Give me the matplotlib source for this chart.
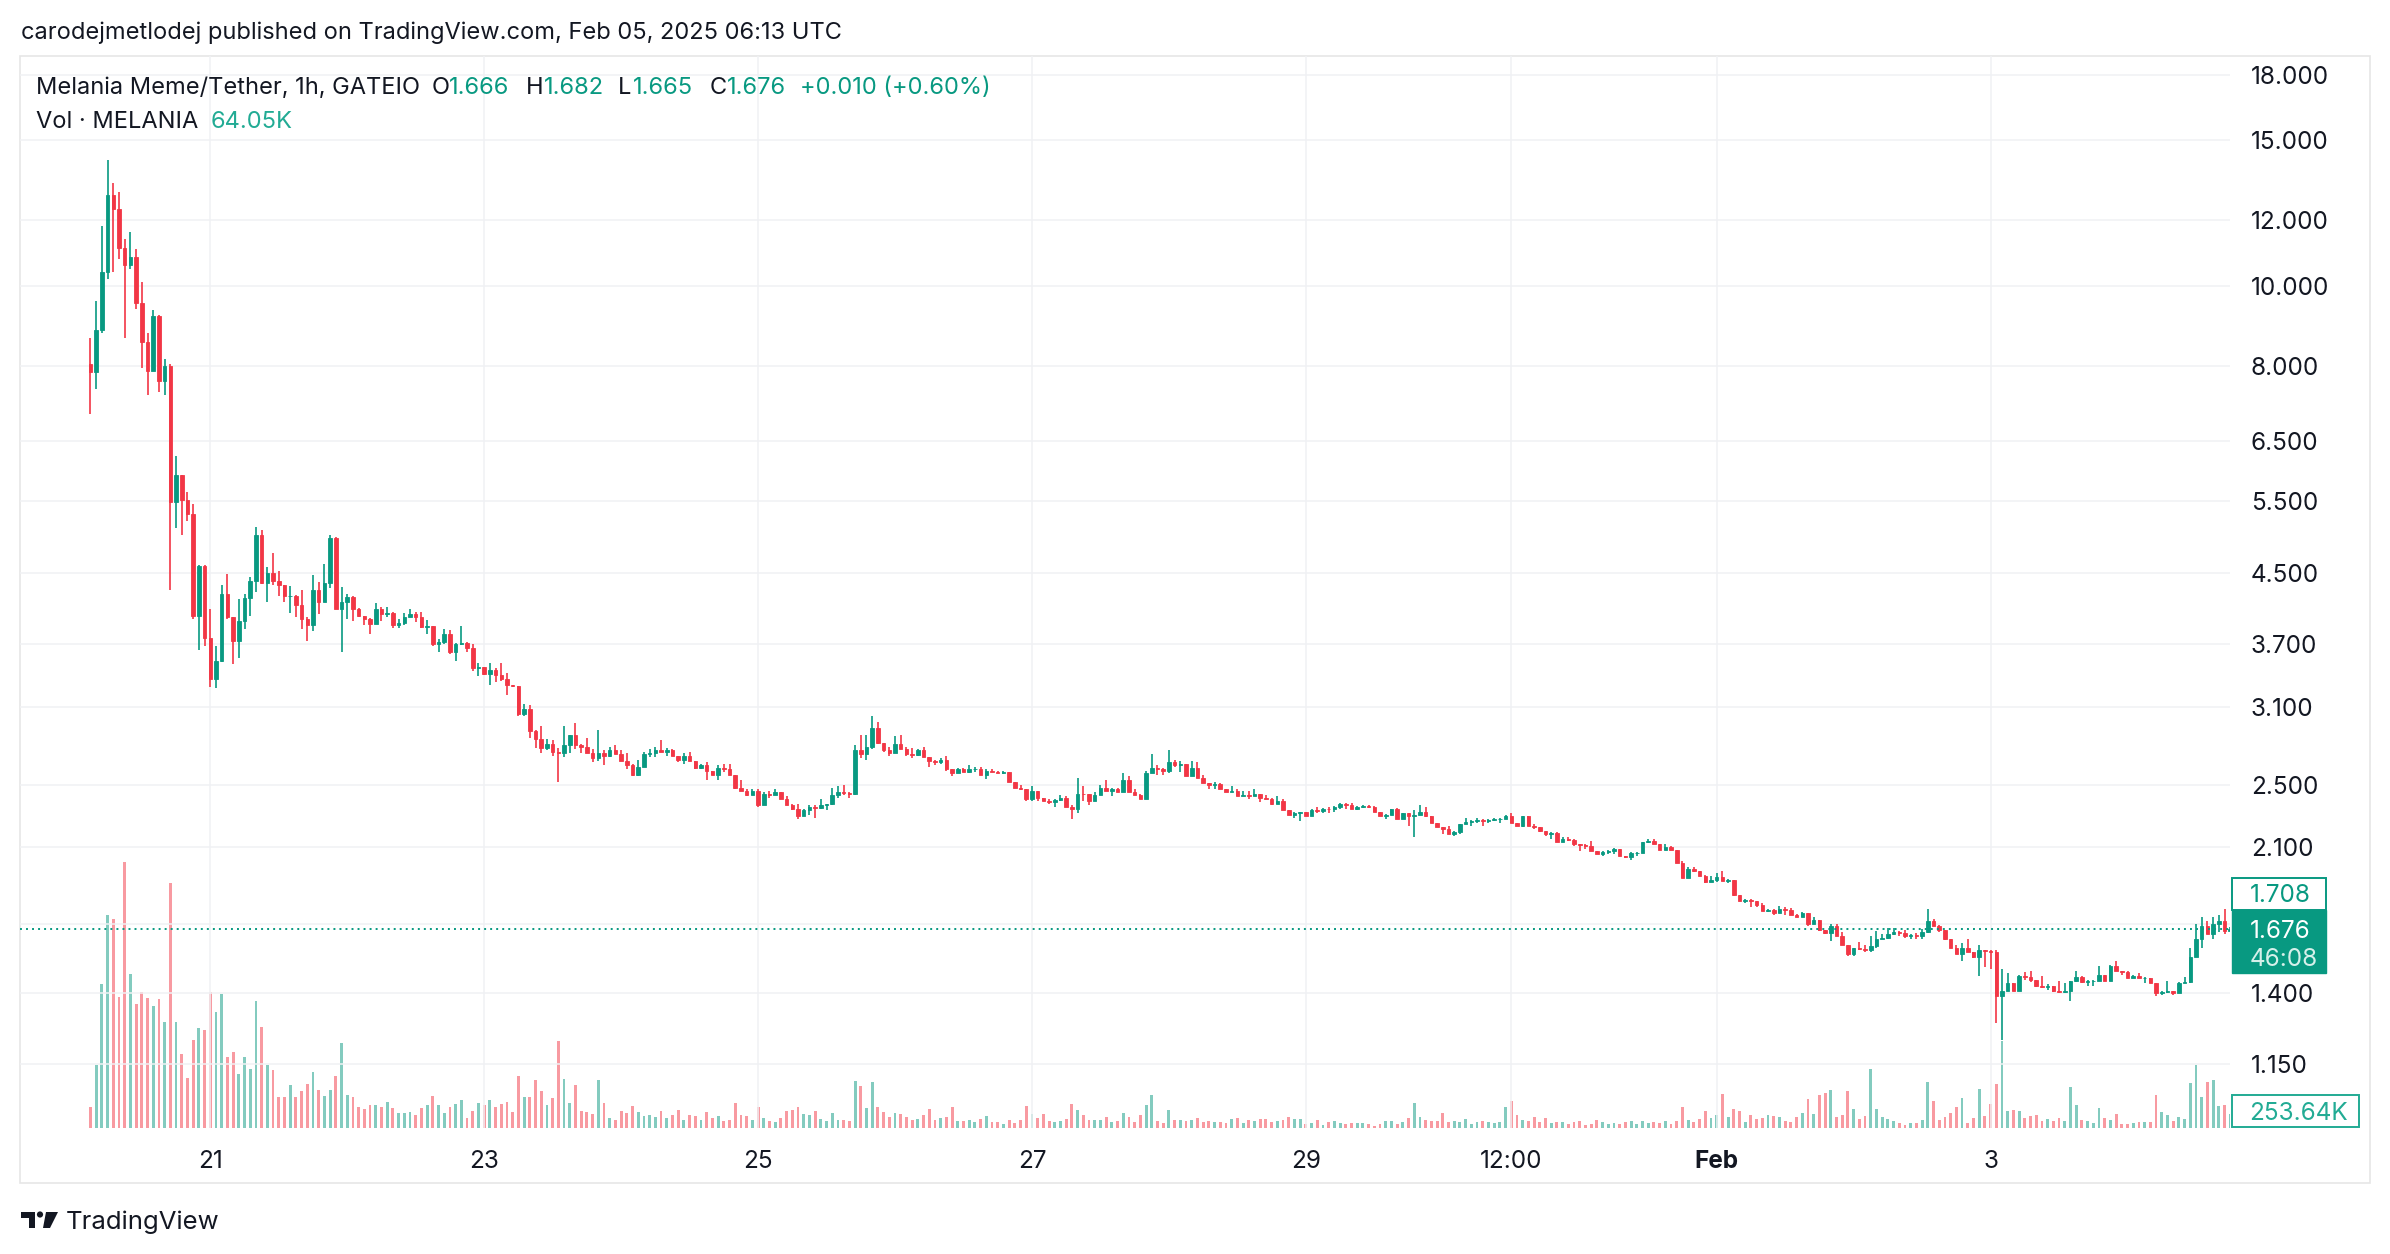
import numpy as np
import matplotlib.pyplot as plt
from matplotlib.patches import Rectangle, Ellipse, Polygon
from matplotlib.ticker import NullLocator

plt.rcParams['font.family'] = ['Inter', 'DejaVu Sans']

# MELANIA/USDT 1h candles (Gate.io)
first_open = 8.05
close = [
    7.87, 8.86, 10.4, 12.86, 12.4, 11.1, 10.6, 10.84, 9.54, 8.55,
    7.89, 9.2, 7.68, 8.0, 5.48, 5.92, 5.51, 5.30, 4.0, 4.59,
    3.76, 3.35, 3.53, 4.25, 3.98, 3.73, 3.94, 4.2, 4.41, 5.01,
    4.38, 4.5, 4.41, 4.36, 4.22, 4.23, 4.12, 3.96, 3.9, 4.3,
    4.16, 4.38, 4.97, 4.07, 4.16, 4.21, 4.08, 4.0, 3.96, 3.91,
    4.08, 4.02, 4.03, 3.9, 3.92, 3.99, 4.02, 3.99, 3.88, 3.89,
    3.70, 3.72, 3.80, 3.62, 3.70, 3.71, 3.66, 3.46, 3.47, 3.40,
    3.44, 3.39, 3.35, 3.30, 3.29, 3.04, 3.09, 2.90, 2.84, 2.77,
    2.80, 2.74, 2.73, 2.79, 2.87, 2.79, 2.78, 2.73, 2.69, 2.73,
    2.71, 2.75, 2.72, 2.67, 2.64, 2.57, 2.63, 2.72, 2.73, 2.75,
    2.74, 2.75, 2.71, 2.68, 2.71, 2.67, 2.62, 2.64, 2.60, 2.57,
    2.62, 2.61, 2.57, 2.48, 2.46, 2.43, 2.46, 2.36, 2.44, 2.43,
    2.45, 2.40, 2.36, 2.34, 2.29, 2.33, 2.35, 2.345, 2.36, 2.37,
    2.43, 2.45, 2.445, 2.44, 2.75, 2.72, 2.78, 2.93, 2.81, 2.75,
    2.73, 2.80, 2.76, 2.72, 2.715, 2.75, 2.70, 2.67, 2.665, 2.68,
    2.61, 2.58, 2.61, 2.59, 2.61, 2.615, 2.57, 2.60, 2.59, 2.585,
    2.59, 2.52, 2.48, 2.47, 2.40, 2.46, 2.41, 2.39, 2.385, 2.395,
    2.41, 2.35, 2.34, 2.44, 2.435, 2.39, 2.43, 2.48, 2.46, 2.47,
    2.45, 2.53, 2.45, 2.43, 2.40, 2.58, 2.62, 2.61, 2.60, 2.66,
    2.64, 2.65, 2.56, 2.62, 2.55, 2.51, 2.50, 2.505, 2.47, 2.45,
    2.46, 2.42, 2.43, 2.425, 2.44, 2.41, 2.40, 2.37, 2.39, 2.33,
    2.30, 2.31, 2.315, 2.29, 2.33, 2.325, 2.34, 2.335, 2.35, 2.37,
    2.365, 2.34, 2.35, 2.355, 2.35, 2.32, 2.29, 2.30, 2.34, 2.27,
    2.31, 2.29, 2.30, 2.32, 2.29, 2.25, 2.22, 2.21, 2.18, 2.19,
    2.24, 2.255, 2.26, 2.265, 2.26, 2.265, 2.27, 2.275, 2.29, 2.25,
    2.23, 2.29, 2.23, 2.225, 2.20, 2.18, 2.185, 2.13, 2.15, 2.145,
    2.12, 2.115, 2.11, 2.08, 2.065, 2.075, 2.08, 2.09, 2.05, 2.045,
    2.07, 2.07, 2.13, 2.14, 2.12, 2.085, 2.10, 2.085, 2.01, 1.93,
    1.98, 1.965, 1.94, 1.91, 1.92, 1.935, 1.915, 1.92, 1.84, 1.81,
    1.815, 1.81, 1.79, 1.76, 1.765, 1.75, 1.77, 1.765, 1.74, 1.73,
    1.75, 1.70, 1.715, 1.67, 1.655, 1.69, 1.64, 1.60, 1.56, 1.59,
    1.585, 1.58, 1.595, 1.63, 1.635, 1.65, 1.66, 1.655, 1.64, 1.645,
    1.64, 1.66, 1.71, 1.69, 1.67, 1.63, 1.59, 1.56, 1.59, 1.57,
    1.55, 1.58, 1.575, 1.57, 1.39, 1.41, 1.44, 1.41, 1.47, 1.465,
    1.455, 1.43, 1.425, 1.43, 1.41, 1.405, 1.41, 1.45, 1.465, 1.445,
    1.45, 1.45, 1.475, 1.45, 1.51, 1.49, 1.485, 1.46, 1.47, 1.46,
    1.46, 1.44, 1.40, 1.405, 1.41, 1.40, 1.44, 1.445, 1.55, 1.63,
    1.69, 1.65, 1.70, 1.71, 1.666, 1.676,
]
high = [
    8.66, 9.6, 11.8, 14.2, 13.3, 13.0, 11.38, 11.62, 11.07, 10.1,
    8.78, 9.35, 9.22, 8.17, 8.05, 6.23, 5.92, 5.64, 5.46, 4.61,
    4.61, 4.08, 3.68, 4.35, 4.49, 3.99, 4.19, 4.25, 4.45, 5.12,
    5.08, 4.58, 4.76, 4.53, 4.36, 4.34, 4.24, 4.30, 3.98, 4.48,
    4.39, 4.62, 5.01, 4.98, 4.33, 4.25, 4.22, 4.09, 4.0, 3.97,
    4.14, 4.10, 4.10, 4.04, 3.96, 4.03, 4.07, 4.04, 4.04, 3.95,
    3.89, 3.75, 3.85, 3.84, 3.71, 3.89, 3.72, 3.70, 3.51, 3.47,
    3.51, 3.46, 3.51, 3.41, 3.30, 3.29, 3.13, 3.12, 2.91, 2.94,
    2.84, 2.83, 2.77, 2.94, 2.87, 2.97, 2.80, 2.85, 2.76, 2.91,
    2.75, 2.78, 2.79, 2.75, 2.73, 2.65, 2.68, 2.74, 2.76, 2.78,
    2.83, 2.77, 2.76, 2.71, 2.73, 2.74, 2.67, 2.65, 2.66, 2.60,
    2.64, 2.65, 2.65, 2.57, 2.53, 2.47, 2.47, 2.47, 2.45, 2.46,
    2.47, 2.45, 2.42, 2.37, 2.37, 2.34, 2.36, 2.36, 2.40, 2.37,
    2.48, 2.49, 2.50, 2.45, 2.79, 2.87, 2.87, 3.03, 2.98, 2.81,
    2.78, 2.86, 2.87, 2.78, 2.77, 2.76, 2.78, 2.70, 2.68, 2.69,
    2.71, 2.61, 2.62, 2.62, 2.64, 2.63, 2.63, 2.61, 2.61, 2.60,
    2.595, 2.59, 2.52, 2.495, 2.47, 2.49, 2.46, 2.41, 2.40, 2.40,
    2.43, 2.42, 2.36, 2.55, 2.49, 2.44, 2.45, 2.50, 2.53, 2.48,
    2.48, 2.58, 2.56, 2.47, 2.44, 2.60, 2.72, 2.64, 2.62, 2.75,
    2.68, 2.67, 2.65, 2.67, 2.66, 2.57, 2.51, 2.52, 2.51, 2.47,
    2.49, 2.47, 2.46, 2.46, 2.47, 2.44, 2.43, 2.41, 2.42, 2.40,
    2.33, 2.32, 2.32, 2.32, 2.34, 2.35, 2.345, 2.35, 2.355, 2.375,
    2.375, 2.375, 2.355, 2.36, 2.36, 2.355, 2.32, 2.305, 2.34, 2.345,
    2.31, 2.31, 2.33, 2.36, 2.35, 2.29, 2.25, 2.225, 2.23, 2.20,
    2.24, 2.28, 2.265, 2.28, 2.27, 2.275, 2.28, 2.28, 2.30, 2.31,
    2.25, 2.29, 2.29, 2.24, 2.225, 2.20, 2.19, 2.19, 2.16, 2.16,
    2.15, 2.12, 2.12, 2.14, 2.08, 2.08, 2.085, 2.095, 2.09, 2.05,
    2.075, 2.075, 2.13, 2.15, 2.15, 2.12, 2.12, 2.11, 2.085, 2.02,
    1.99, 1.99, 1.965, 1.945, 1.94, 1.955, 1.965, 1.925, 1.92, 1.84,
    1.82, 1.82, 1.81, 1.80, 1.77, 1.77, 1.785, 1.78, 1.775, 1.745,
    1.755, 1.75, 1.73, 1.715, 1.67, 1.70, 1.70, 1.66, 1.60, 1.59,
    1.615, 1.60, 1.64, 1.665, 1.65, 1.68, 1.68, 1.665, 1.67, 1.65,
    1.655, 1.675, 1.77, 1.72, 1.695, 1.67, 1.63, 1.60, 1.61, 1.63,
    1.57, 1.60, 1.58, 1.58, 1.58, 1.50, 1.48, 1.44, 1.475, 1.485,
    1.49, 1.455, 1.47, 1.435, 1.43, 1.45, 1.44, 1.45, 1.49, 1.47,
    1.455, 1.455, 1.51, 1.475, 1.515, 1.53, 1.49, 1.49, 1.475, 1.48,
    1.465, 1.46, 1.44, 1.41, 1.45, 1.41, 1.445, 1.465, 1.59, 1.70,
    1.73, 1.71, 1.73, 1.74, 1.77, 1.682,
]
low = [
    7.0, 7.5, 8.77, 10.2, 10.4, 10.77, 8.66, 10.49, 9.37, 7.96,
    7.39, 7.89, 7.45, 7.39, 4.29, 5.10, 5.01, 5.21, 3.96, 3.64,
    3.68, 3.28, 3.27, 3.52, 3.96, 3.50, 3.56, 3.85, 4.0, 4.27,
    4.37, 4.15, 4.35, 4.22, 4.15, 4.03, 3.99, 3.85, 3.73, 3.83,
    4.02, 4.15, 4.32, 4.07, 3.62, 3.96, 3.94, 3.98, 3.90, 3.80,
    3.91, 3.94, 3.99, 3.86, 3.86, 3.90, 3.98, 3.93, 3.86, 3.80,
    3.68, 3.62, 3.70, 3.60, 3.53, 3.69, 3.62, 3.43, 3.38, 3.39,
    3.30, 3.33, 3.34, 3.21, 3.28, 3.03, 3.03, 2.85, 2.77, 2.73,
    2.75, 2.71, 2.52, 2.70, 2.73, 2.76, 2.73, 2.73, 2.66, 2.67,
    2.64, 2.70, 2.72, 2.67, 2.61, 2.56, 2.56, 2.63, 2.70, 2.70,
    2.74, 2.71, 2.71, 2.66, 2.65, 2.67, 2.61, 2.61, 2.53, 2.57,
    2.53, 2.59, 2.57, 2.47, 2.46, 2.42, 2.43, 2.35, 2.36, 2.41,
    2.43, 2.40, 2.36, 2.33, 2.27, 2.29, 2.30, 2.28, 2.34, 2.33,
    2.36, 2.41, 2.43, 2.41, 2.43, 2.69, 2.68, 2.76, 2.80, 2.74,
    2.71, 2.73, 2.76, 2.71, 2.69, 2.71, 2.70, 2.63, 2.64, 2.65,
    2.60, 2.56, 2.58, 2.59, 2.58, 2.59, 2.57, 2.54, 2.59, 2.58,
    2.575, 2.52, 2.475, 2.465, 2.39, 2.39, 2.39, 2.39, 2.37, 2.35,
    2.39, 2.35, 2.27, 2.31, 2.39, 2.36, 2.39, 2.43, 2.46, 2.42,
    2.45, 2.45, 2.45, 2.43, 2.40, 2.40, 2.58, 2.57, 2.57, 2.58,
    2.63, 2.59, 2.56, 2.56, 2.55, 2.51, 2.47, 2.47, 2.47, 2.45,
    2.45, 2.42, 2.42, 2.40, 2.42, 2.38, 2.40, 2.36, 2.37, 2.33,
    2.30, 2.28, 2.26, 2.29, 2.29, 2.31, 2.31, 2.31, 2.32, 2.335,
    2.34, 2.34, 2.33, 2.345, 2.345, 2.32, 2.29, 2.27, 2.30, 2.27,
    2.27, 2.23, 2.16, 2.30, 2.285, 2.25, 2.22, 2.18, 2.18, 2.17,
    2.18, 2.24, 2.23, 2.25, 2.23, 2.25, 2.26, 2.25, 2.27, 2.245,
    2.23, 2.225, 2.23, 2.21, 2.195, 2.17, 2.15, 2.13, 2.13, 2.14,
    2.11, 2.08, 2.09, 2.08, 2.06, 2.05, 2.06, 2.06, 2.05, 2.04,
    2.03, 2.05, 2.07, 2.125, 2.12, 2.085, 2.085, 2.085, 2.01, 1.93,
    1.93, 1.96, 1.94, 1.905, 1.91, 1.91, 1.915, 1.905, 1.835, 1.81,
    1.80, 1.78, 1.78, 1.76, 1.755, 1.74, 1.75, 1.74, 1.74, 1.73,
    1.73, 1.69, 1.70, 1.665, 1.65, 1.62, 1.64, 1.60, 1.555, 1.555,
    1.58, 1.57, 1.57, 1.59, 1.63, 1.63, 1.645, 1.64, 1.635, 1.63,
    1.63, 1.63, 1.655, 1.69, 1.66, 1.625, 1.59, 1.56, 1.53, 1.57,
    1.545, 1.47, 1.505, 1.50, 1.29, 1.23, 1.41, 1.41, 1.41, 1.455,
    1.445, 1.425, 1.42, 1.415, 1.405, 1.40, 1.40, 1.37, 1.445, 1.44,
    1.43, 1.43, 1.45, 1.45, 1.45, 1.49, 1.475, 1.46, 1.46, 1.46,
    1.44, 1.44, 1.39, 1.395, 1.40, 1.395, 1.40, 1.44, 1.44, 1.55,
    1.59, 1.65, 1.63, 1.66, 1.65, 1.665,
]
# volume bar heights (1 unit ~ 1.56K MELANIA)
vol_read = [
    63, 189, 432, 639, 627, 393, 798, 462, 372, 408,
    390, 366, 387, 318, 735, 318, 222, 150, 264, 300,
    294, 408, 348, 402, 213, 228, 162, 213, 177, 381,
    303, 189, 174, 93, 93, 129, 93, 111, 132, 168,
    114, 96, 114, 156, 255, 99, 93, 63, 57, 69,
    69, 63, 78, 60, 45, 45, 48, 39, 60, 69,
    96, 69, 45, 63, 72, 84, 30, 51, 75, 69,
    84, 63, 72, 78, 48, 156, 93, 93, 144, 111,
    69, 90, 261, 147, 75, 129, 51, 48, 42, 144,
    75, 30, 24, 51, 45, 66, 48, 36, 39, 33,
    51, 30, 39, 54, 24, 39, 36, 24, 48, 30,
    36, 21, 24, 75, 39, 36, 24, 63, 30, 21,
    18, 30, 51, 54, 63, 42, 39, 51, 27, 21,
    45, 24, 24, 21, 141, 126, 60, 138, 63, 48,
    33, 45, 42, 33, 24, 27, 39, 57, 24, 30,
    33, 63, 21, 21, 24, 18, 27, 36, 18, 18,
    12, 24, 15, 24, 66, 42, 30, 42, 21, 18,
    21, 27, 72, 54, 39, 24, 24, 24, 33, 18,
    21, 45, 33, 18,
    40, 68, 98, 20, 14, 53, 23, 23, 20, 23,
    29, 17, 20, 17, 17, 14, 26, 29, 14, 23,
    20, 26, 26, 17, 20, 23, 32, 26, 26, 11,
    14, 23, 8, 17, 20, 14, 11, 14, 14, 14,
    11, 5, 11, 20, 20, 11, 17, 29, 74, 32,
    23, 20, 20, 44, 17, 20, 17, 26, 11, 17,
    20, 17, 14, 17, 62, 80, 38, 23, 20, 32,
    17, 29, 14, 17, 17, 11, 17, 20, 8, 11,
    23, 17, 11, 14, 11, 17, 20, 11, 20, 14,
    17, 14, 20, 11, 20, 62, 23, 17, 26, 50,
    29, 38, 101, 32, 56, 50, 17, 38, 26, 29,
    38, 35, 32, 20, 17, 32, 44, 86, 41, 98,
    104, 113, 32, 38, 110, 56, 26, 35, 176, 56,
    32, 26, 20, 14, 8, 14, 14, 23, 137, 80,
    23, 32, 44, 62, 89, 14, 29, 116, 35, 71,
    131, 260, 50, 53, 50, 29, 35, 38, 20, 26,
    20, 29, 20, 122, 68, 23, 20, 14, 59, 29,
    23, 41, 11, 11, 14, 17, 17, 17, 98, 47,
    38, 20, 32, 26, 134, 188, 92, 137, 143, 65,
    68, 41,
]

tick_pos = [21, 69, 117, 165, 213, 249, 285, 333]
tick_labels = ['21', '23', '25', '27', '29', '12:00', 'Feb', '3']
price_ticks = [18, 15, 12, 10, 8, 6.5, 5.5, 4.5, 3.7, 3.1, 2.5, 2.1, 1.7, 1.4, 1.15]
last_price = 1.676

GREEN = '#089981'
RED = '#F23645'
VOLTXT = '#22ab94'
TEXT = '#131722'
GRID = '#f0f1f4'
FS = 17      # header text
AFS = 17.5   # axis / price-scale text

W, H = 2390, 1254


def fx(px):
    return px / W


def fy(py):
    return 1 - py / H


o = np.array([first_open] + close[:-1])
c = np.array(close)
hi = np.array(high)
lo = np.array(low)
vol = np.array(vol_read) * 1.56
x = np.arange(len(c))
col = np.where(c >= o, GREEN, RED)

fig = plt.figure(figsize=(W / 100, H / 100), dpi=100)
rect = [fx(20), fy(1128), 2210 / W, 1072 / H]
xlim = (-12.35, 374.96)

# volume overlay at the bottom of the pane
vax = fig.add_axes(rect, zorder=1)
vax.bar(x, vol, width=0.5, color=col, alpha=0.5, linewidth=0)
vax.set_xlim(*xlim)
vax.set_ylim(0, vol.max() * 4.03)
vax.axis('off')

ax = fig.add_axes(rect, zorder=2)
ax.patch.set_alpha(0)
ax.set_yscale('log')
ax.vlines(x, lo, hi, colors=col, linewidth=1.2, zorder=3)
ax.bar(x, np.abs(c - o), bottom=np.minimum(o, c), width=0.62,
       color=col, edgecolor=col, linewidth=0.6, zorder=4)
ax.axhline(last_price, color=GREEN, linewidth=1.4, linestyle=(0, (1, 2.1)), zorder=5)

ax.set_xlim(*xlim)
ax.set_ylim(0.963, 18.95)
ax.set_yticks(price_ticks)
ax.yaxis.set_minor_locator(NullLocator())
ax.set_yticklabels(['' if t == 1.7 else f'{t:.3f}' for t in price_ticks])
ax.yaxis.tick_right()
ax.tick_params(axis='y', length=0, pad=15, labelsize=AFS, labelcolor=TEXT)
ax.set_xticks(tick_pos)
ax.set_xticklabels(tick_labels)
ax.tick_params(axis='x', length=0, pad=16, labelsize=AFS, labelcolor=TEXT)
ax.get_xticklabels()[6].set_fontweight('bold')
ax.grid(True, color=GRID, linewidth=1.1, zorder=0)
ax.set_axisbelow(True)
for s in ax.spines.values():
    s.set_visible(False)

# outer frame
fig.add_artist(Rectangle((fx(20), fy(1183)), 2350 / W, 1127 / H, transform=fig.transFigure,
                         fill=False, edgecolor='#e6e6e6', linewidth=1.2))

# header
fig.text(fx(21), fy(33), 'carodejmetlodej published on TradingView.com, Feb 05, 2025 06:13 UTC',
         fontsize=FS, color=TEXT, va='center', ha='left')
legend_parts = [
    (36.5, 'Melania Meme/Tether, 1h, GATEIO', TEXT),
    (431.6, 'O', TEXT), (449, '1.666', GREEN),
    (526, 'H', TEXT), (544, '1.682', GREEN),
    (617.5, 'L', TEXT), (633, '1.665', GREEN),
    (710, 'C', TEXT), (727, '1.676', GREEN),
    (800, '+0.010 (+0.60%)', GREEN),
]
for px, txt, color in legend_parts:
    fig.text(fx(px), fy(88), txt, fontsize=FS, color=color, va='center', ha='left')
fig.text(fx(36.5), fy(122), 'Vol · MELANIA', fontsize=FS, color=TEXT, va='center', ha='left')
fig.text(fx(210.5), fy(122), '64.05K', fontsize=FS, color=VOLTXT, va='center', ha='left')

# price scale labels
fig.add_artist(Rectangle((fx(2232), fy(910)), 94 / W, 32 / H, transform=fig.transFigure,
                         facecolor='white', edgecolor=GREEN, linewidth=1.4))
fig.text(fx(2250), fy(896), '1.708', fontsize=AFS, color=GREEN, va='center', ha='left')
fig.add_artist(Rectangle((fx(2232), fy(973)), 94 / W, 63 / H, transform=fig.transFigure,
                         facecolor=GREEN, edgecolor=GREEN, linewidth=1.0))
fig.text(fx(2250), fy(931), '1.676', fontsize=AFS, color='white', va='center', ha='left')
fig.text(fx(2250), fy(959), '46:08', fontsize=AFS, color='#d6f0ea', va='center', ha='left')
fig.add_artist(Rectangle((fx(2232), fy(1127)), 127 / W, 32 / H, transform=fig.transFigure,
                         facecolor='white', edgecolor=VOLTXT, linewidth=1.4))
fig.text(fx(2249), fy(1113), '253.64K', fontsize=AFS, color=VOLTXT, va='center', ha='left')

# footer logo + name
tf = fig.transFigure
fig.add_artist(Rectangle((fx(21), fy(1218)), 14 / W, 6 / H, transform=tf, color=TEXT, lw=0))
fig.add_artist(Rectangle((fx(28.5), fy(1228)), 6.5 / W, 16 / H, transform=tf, color=TEXT, lw=0))
fig.add_artist(Ellipse((fx(40), fy(1214.5)), 6.2 / W, 6.2 / H, transform=tf, color=TEXT, lw=0))
fig.add_artist(Polygon([(fx(46), fy(1212)), (fx(58), fy(1212)), (fx(50), fy(1228)), (fx(43), fy(1228))],
                       closed=True, transform=tf, color=TEXT, lw=0))
fig.text(fx(66), fy(1222), 'TradingView', fontsize=18.5, color=TEXT, va='center', ha='left')

fig.savefig('out.png', dpi=100)
plt.close(fig)
